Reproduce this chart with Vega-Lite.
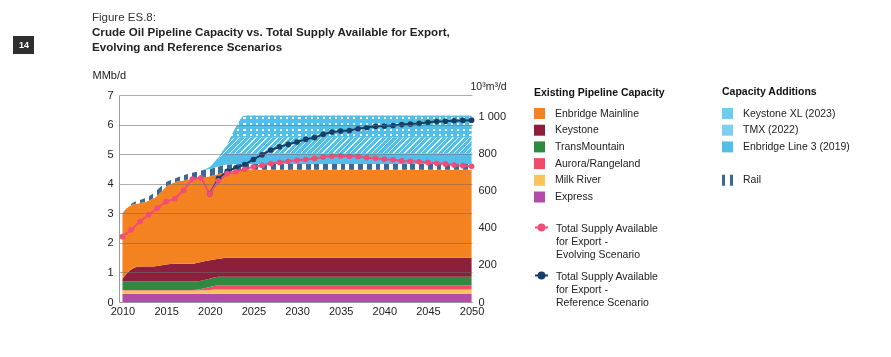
{
  "$schema": "https://vega.github.io/schema/vega-lite/v6.json",
  "width": 353,
  "height": 207,
  "autosize": {"type": "none"},
  "padding": {"left": 119, "top": 95, "right": 419, "bottom": 55},
  "background": "#ffffff",
  "config": {
    "font": "Liberation Sans",
    "view": {"stroke": null},
    "legend": {"labelFontSize": 10.5, "titleFontSize": 10.5, "labelColor": "#222222", "titleColor": "#111111", "labelFont": "Liberation Sans", "titleFont": "Liberation Sans", "padding": 0, "symbolStrokeWidth": 0, "rowPadding": 5.7, "labelOffset": 10, "titlePadding": 10, "labelLimit": 300}
  },
  "title": {
    "text": "Figure ES.8:",
    "subtitle": ["Crude Oil Pipeline Capacity vs. Total Supply Available for Export,", "Evolving and Reference Scenarios"],
    "anchor": "start", "frame": "group", "dx": -27, "offset": -18,
    "font": "Liberation Sans", "fontSize": 11.5, "fontWeight": "normal", "color": "#333333",
    "subtitleFont": "Liberation Sans", "subtitleFontSize": 11.6, "subtitleFontWeight": "bold", "subtitleColor": "#222222", "subtitlePadding": 4, "subtitleLineHeight": 15
  },
  "datasets": {
    "cap": [
      {"year": 2010, "Express": 0.28, "Milk River": 0.11, "Aurora/Rangeland": 0.02, "TransMountain": 0.28, "Keystone": 0.10, "Enbridge Mainline": 2.21, "Rail": 0.00, "Enbridge Line 3 (2019)": 0, "TMX (2022)": 0, "Keystone XL (2023)": 0},
      {"year": 2011, "Express": 0.28, "Milk River": 0.11, "Aurora/Rangeland": 0.02, "TransMountain": 0.28, "Keystone": 0.41, "Enbridge Mainline": 2.18, "Rail": 0.04, "Enbridge Line 3 (2019)": 0, "TMX (2022)": 0, "Keystone XL (2023)": 0},
      {"year": 2012, "Express": 0.28, "Milk River": 0.11, "Aurora/Rangeland": 0.02, "TransMountain": 0.28, "Keystone": 0.51, "Enbridge Mainline": 2.15, "Rail": 0.10, "Enbridge Line 3 (2019)": 0, "TMX (2022)": 0, "Keystone XL (2023)": 0},
      {"year": 2013, "Express": 0.28, "Milk River": 0.11, "Aurora/Rangeland": 0.02, "TransMountain": 0.28, "Keystone": 0.51, "Enbridge Mainline": 2.22, "Rail": 0.15, "Enbridge Line 3 (2019)": 0, "TMX (2022)": 0, "Keystone XL (2023)": 0},
      {"year": 2014, "Express": 0.28, "Milk River": 0.11, "Aurora/Rangeland": 0.02, "TransMountain": 0.28, "Keystone": 0.53, "Enbridge Mainline": 2.38, "Rail": 0.20, "Enbridge Line 3 (2019)": 0, "TMX (2022)": 0, "Keystone XL (2023)": 0},
      {"year": 2015, "Express": 0.28, "Milk River": 0.11, "Aurora/Rangeland": 0.02, "TransMountain": 0.28, "Keystone": 0.58, "Enbridge Mainline": 2.63, "Rail": 0.15, "Enbridge Line 3 (2019)": 0, "TMX (2022)": 0, "Keystone XL (2023)": 0},
      {"year": 2016, "Express": 0.28, "Milk River": 0.11, "Aurora/Rangeland": 0.02, "TransMountain": 0.28, "Keystone": 0.60, "Enbridge Mainline": 2.76, "Rail": 0.13, "Enbridge Line 3 (2019)": 0, "TMX (2022)": 0, "Keystone XL (2023)": 0},
      {"year": 2017, "Express": 0.28, "Milk River": 0.11, "Aurora/Rangeland": 0.02, "TransMountain": 0.28, "Keystone": 0.60, "Enbridge Mainline": 2.83, "Rail": 0.17, "Enbridge Line 3 (2019)": 0, "TMX (2022)": 0, "Keystone XL (2023)": 0},
      {"year": 2018, "Express": 0.28, "Milk River": 0.11, "Aurora/Rangeland": 0.02, "TransMountain": 0.28, "Keystone": 0.60, "Enbridge Mainline": 2.87, "Rail": 0.21, "Enbridge Line 3 (2019)": 0, "TMX (2022)": 0, "Keystone XL (2023)": 0},
      {"year": 2019, "Express": 0.28, "Milk River": 0.12, "Aurora/Rangeland": 0.04, "TransMountain": 0.28, "Keystone": 0.63, "Enbridge Mainline": 2.85, "Rail": 0.25, "Enbridge Line 3 (2019)": 0, "TMX (2022)": 0, "Keystone XL (2023)": 0},
      {"year": 2020, "Express": 0.28, "Milk River": 0.13, "Aurora/Rangeland": 0.10, "TransMountain": 0.28, "Keystone": 0.62, "Enbridge Mainline": 2.84, "Rail": 0.25, "Enbridge Line 3 (2019)": 0.07, "TMX (2022)": 0, "Keystone XL (2023)": 0},
      {"year": 2021, "Express": 0.28, "Milk River": 0.14, "Aurora/Rangeland": 0.15, "TransMountain": 0.28, "Keystone": 0.61, "Enbridge Mainline": 2.87, "Rail": 0.25, "Enbridge Line 3 (2019)": 0.30, "TMX (2022)": 0, "Keystone XL (2023)": 0},
      {"year": 2022, "Express": 0.28, "Milk River": 0.14, "Aurora/Rangeland": 0.15, "TransMountain": 0.28, "Keystone": 0.65, "Enbridge Mainline": 2.90, "Rail": 0.25, "Enbridge Line 3 (2019)": 0.36, "TMX (2022)": 0.30, "Keystone XL (2023)": 0},
      {"year": 2023, "Express": 0.28, "Milk River": 0.14, "Aurora/Rangeland": 0.15, "TransMountain": 0.28, "Keystone": 0.65, "Enbridge Mainline": 2.94, "Rail": 0.22, "Enbridge Line 3 (2019)": 0.36, "TMX (2022)": 0.54, "Keystone XL (2023)": 0.35},
      {"year": 2024, "Express": 0.28, "Milk River": 0.14, "Aurora/Rangeland": 0.15, "TransMountain": 0.28, "Keystone": 0.65, "Enbridge Mainline": 2.97, "Rail": 0.20, "Enbridge Line 3 (2019)": 0.36, "TMX (2022)": 0.53, "Keystone XL (2023)": 0.74},
      {"year": 2050, "Express": 0.28, "Milk River": 0.14, "Aurora/Rangeland": 0.15, "TransMountain": 0.28, "Keystone": 0.65, "Enbridge Mainline": 2.97, "Rail": 0.20, "Enbridge Line 3 (2019)": 0.36, "TMX (2022)": 0.53, "Keystone XL (2023)": 0.74}
    ],
    "sup": [
      {"year": 2010, "Evolving": 2.21}, {"year": 2011, "Evolving": 2.44}, {"year": 2012, "Evolving": 2.72}, {"year": 2013, "Evolving": 2.95},
      {"year": 2014, "Evolving": 3.18}, {"year": 2015, "Evolving": 3.40}, {"year": 2016, "Evolving": 3.49}, {"year": 2017, "Evolving": 3.78},
      {"year": 2018, "Evolving": 4.16}, {"year": 2019, "Evolving": 4.20}, {"year": 2020, "Evolving": 3.66, "Reference": 3.66},
      {"year": 2021, "Evolving": 4.10, "Reference": 4.18}, {"year": 2022, "Evolving": 4.34, "Reference": 4.42}, {"year": 2023, "Evolving": 4.41, "Reference": 4.54},
      {"year": 2024, "Evolving": 4.49, "Reference": 4.65}, {"year": 2025, "Evolving": 4.57, "Reference": 4.82}, {"year": 2026, "Evolving": 4.62, "Reference": 4.98},
      {"year": 2027, "Evolving": 4.68, "Reference": 5.14}, {"year": 2028, "Evolving": 4.72, "Reference": 5.25}, {"year": 2029, "Evolving": 4.76, "Reference": 5.33},
      {"year": 2030, "Evolving": 4.79, "Reference": 5.41}, {"year": 2031, "Evolving": 4.82, "Reference": 5.50}, {"year": 2032, "Evolving": 4.85, "Reference": 5.56},
      {"year": 2033, "Evolving": 4.90, "Reference": 5.67}, {"year": 2034, "Evolving": 4.93, "Reference": 5.75}, {"year": 2035, "Evolving": 4.94, "Reference": 5.78},
      {"year": 2036, "Evolving": 4.93, "Reference": 5.80}, {"year": 2037, "Evolving": 4.92, "Reference": 5.86}, {"year": 2038, "Evolving": 4.88, "Reference": 5.90},
      {"year": 2039, "Evolving": 4.86, "Reference": 5.94}, {"year": 2040, "Evolving": 4.83, "Reference": 5.95}, {"year": 2041, "Evolving": 4.81, "Reference": 5.97},
      {"year": 2042, "Evolving": 4.77, "Reference": 6.00}, {"year": 2043, "Evolving": 4.76, "Reference": 6.02}, {"year": 2044, "Evolving": 4.74, "Reference": 6.04},
      {"year": 2045, "Evolving": 4.72, "Reference": 6.08}, {"year": 2046, "Evolving": 4.69, "Reference": 6.10}, {"year": 2047, "Evolving": 4.67, "Reference": 6.11},
      {"year": 2048, "Evolving": 4.63, "Reference": 6.13}, {"year": 2049, "Evolving": 4.61, "Reference": 6.14}, {"year": 2050, "Evolving": 4.59, "Reference": 6.15}
    ]
  },
  "layer": [
    {
      "data": {"name": "cap"},
      "transform": [
        {"fold": ["Express", "Milk River", "Aurora/Rangeland", "TransMountain", "Keystone", "Enbridge Mainline", "Rail", "Enbridge Line 3 (2019)", "TMX (2022)", "Keystone XL (2023)"], "as": ["series", "value"]},
        {"stack": "value", "groupby": ["year"], "as": ["y0", "y1"]},
        {"filter": {"field": "series", "oneOf": ["Enbridge Mainline", "Keystone", "TransMountain", "Aurora/Rangeland", "Milk River", "Express"]}}
      ],
      "mark": {"type": "area", "interpolate": "monotone"},
      "encoding": {
        "x": {"field": "year", "type": "quantitative", "scale": {"domain": [2009.6, 2050.05], "nice": false, "zero": false},
          "axis": {"values": [2010, 2015, 2020, 2025, 2030, 2035, 2040, 2045, 2050], "format": "d", "title": null, "grid": false, "ticks": false, "domainColor": "#9a9a9a", "labelPadding": 3, "labelFontSize": 11, "labelColor": "#222222", "labelFlush": false, "zindex": 1}},
        "y": {"field": "y1", "type": "quantitative", "scale": {"domain": [0, 7], "nice": false, "zero": true},
          "axis": {"orient": "left", "values": [0, 1, 2, 3, 4, 5, 6, 7], "title": "MMb/d", "titleAngle": 0, "titleAlign": "left", "titleBaseline": "middle", "titleX": -27, "titleY": -20, "titleFontWeight": "normal", "titleFontSize": 11, "titleColor": "#222222", "grid": true, "gridColor": "#6e6e6e", "gridOpacity": 0.55, "gridWidth": 1, "domainColor": "#9a9a9a", "ticks": false, "labelPadding": 6, "labelFontSize": 11, "labelColor": "#222222", "zindex": 1}},
        "y2": {"field": "y0"},
        "color": {"field": "series", "type": "nominal",
          "scale": {"domain": ["Enbridge Mainline", "Keystone", "TransMountain", "Aurora/Rangeland", "Milk River", "Express"], "range": ["#f58220", "#8c1f3c", "#2f8a3f", "#f04c6a", "#fcc25c", "#b44ba6"]},
          "legend": {"title": "Existing Pipeline Capacity", "orient": "none", "legendX": 415, "legendY": -7.5, "symbolType": "square", "symbolSize": 121, "titleFontWeight": "bold"}}
      }
    },
    {
      "data": {"name": "cap"},
      "transform": [
        {"fold": ["Express", "Milk River", "Aurora/Rangeland", "TransMountain", "Keystone", "Enbridge Mainline", "Rail", "Enbridge Line 3 (2019)", "TMX (2022)", "Keystone XL (2023)"], "as": ["series", "value"]},
        {"stack": "value", "groupby": ["year"], "as": ["y0", "y1"]},
        {"filter": {"field": "series", "equal": "Rail"}}
      ],
      "mark": {"type": "area", "interpolate": "monotone", "fill": {"gradient": "linear", "x1": 0, "y1": 0, "x2": 1, "y2": 0, "stops": [
        {"offset":0,"color":"#3b6894"},{"offset":0.01375,"color":"#3b6894"},{"offset":0.01375,"color":"#fff"},{"offset":0.025,"color":"#fff"},
        {"offset":0.025,"color":"#3b6894"},{"offset":0.03875,"color":"#3b6894"},{"offset":0.03875,"color":"#fff"},{"offset":0.05,"color":"#fff"},
        {"offset":0.05,"color":"#3b6894"},{"offset":0.06375,"color":"#3b6894"},{"offset":0.06375,"color":"#fff"},{"offset":0.075,"color":"#fff"},
        {"offset":0.075,"color":"#3b6894"},{"offset":0.08875,"color":"#3b6894"},{"offset":0.08875,"color":"#fff"},{"offset":0.1,"color":"#fff"},
        {"offset":0.1,"color":"#3b6894"},{"offset":0.11375,"color":"#3b6894"},{"offset":0.11375,"color":"#fff"},{"offset":0.125,"color":"#fff"},
        {"offset":0.125,"color":"#3b6894"},{"offset":0.13875,"color":"#3b6894"},{"offset":0.13875,"color":"#fff"},{"offset":0.15,"color":"#fff"},
        {"offset":0.15,"color":"#3b6894"},{"offset":0.16375,"color":"#3b6894"},{"offset":0.16375,"color":"#fff"},{"offset":0.175,"color":"#fff"},
        {"offset":0.175,"color":"#3b6894"},{"offset":0.18875,"color":"#3b6894"},{"offset":0.18875,"color":"#fff"},{"offset":0.2,"color":"#fff"},
        {"offset":0.2,"color":"#3b6894"},{"offset":0.21375,"color":"#3b6894"},{"offset":0.21375,"color":"#fff"},{"offset":0.225,"color":"#fff"},
        {"offset":0.225,"color":"#3b6894"},{"offset":0.23875,"color":"#3b6894"},{"offset":0.23875,"color":"#fff"},{"offset":0.25,"color":"#fff"},
        {"offset":0.25,"color":"#3b6894"},{"offset":0.26375,"color":"#3b6894"},{"offset":0.26375,"color":"#fff"},{"offset":0.275,"color":"#fff"},
        {"offset":0.275,"color":"#3b6894"},{"offset":0.28875,"color":"#3b6894"},{"offset":0.28875,"color":"#fff"},{"offset":0.3,"color":"#fff"},
        {"offset":0.3,"color":"#3b6894"},{"offset":0.31375,"color":"#3b6894"},{"offset":0.31375,"color":"#fff"},{"offset":0.325,"color":"#fff"},
        {"offset":0.325,"color":"#3b6894"},{"offset":0.33875,"color":"#3b6894"},{"offset":0.33875,"color":"#fff"},{"offset":0.35,"color":"#fff"},
        {"offset":0.35,"color":"#3b6894"},{"offset":0.36375,"color":"#3b6894"},{"offset":0.36375,"color":"#fff"},{"offset":0.375,"color":"#fff"},
        {"offset":0.375,"color":"#3b6894"},{"offset":0.38875,"color":"#3b6894"},{"offset":0.38875,"color":"#fff"},{"offset":0.4,"color":"#fff"},
        {"offset":0.4,"color":"#3b6894"},{"offset":0.41375,"color":"#3b6894"},{"offset":0.41375,"color":"#fff"},{"offset":0.425,"color":"#fff"},
        {"offset":0.425,"color":"#3b6894"},{"offset":0.43875,"color":"#3b6894"},{"offset":0.43875,"color":"#fff"},{"offset":0.45,"color":"#fff"},
        {"offset":0.45,"color":"#3b6894"},{"offset":0.46375,"color":"#3b6894"},{"offset":0.46375,"color":"#fff"},{"offset":0.475,"color":"#fff"},
        {"offset":0.475,"color":"#3b6894"},{"offset":0.48875,"color":"#3b6894"},{"offset":0.48875,"color":"#fff"},{"offset":0.5,"color":"#fff"},
        {"offset":0.5,"color":"#3b6894"},{"offset":0.51375,"color":"#3b6894"},{"offset":0.51375,"color":"#fff"},{"offset":0.525,"color":"#fff"},
        {"offset":0.525,"color":"#3b6894"},{"offset":0.53875,"color":"#3b6894"},{"offset":0.53875,"color":"#fff"},{"offset":0.55,"color":"#fff"},
        {"offset":0.55,"color":"#3b6894"},{"offset":0.56375,"color":"#3b6894"},{"offset":0.56375,"color":"#fff"},{"offset":0.575,"color":"#fff"},
        {"offset":0.575,"color":"#3b6894"},{"offset":0.58875,"color":"#3b6894"},{"offset":0.58875,"color":"#fff"},{"offset":0.6,"color":"#fff"},
        {"offset":0.6,"color":"#3b6894"},{"offset":0.61375,"color":"#3b6894"},{"offset":0.61375,"color":"#fff"},{"offset":0.625,"color":"#fff"},
        {"offset":0.625,"color":"#3b6894"},{"offset":0.63875,"color":"#3b6894"},{"offset":0.63875,"color":"#fff"},{"offset":0.65,"color":"#fff"},
        {"offset":0.65,"color":"#3b6894"},{"offset":0.66375,"color":"#3b6894"},{"offset":0.66375,"color":"#fff"},{"offset":0.675,"color":"#fff"},
        {"offset":0.675,"color":"#3b6894"},{"offset":0.68875,"color":"#3b6894"},{"offset":0.68875,"color":"#fff"},{"offset":0.7,"color":"#fff"},
        {"offset":0.7,"color":"#3b6894"},{"offset":0.71375,"color":"#3b6894"},{"offset":0.71375,"color":"#fff"},{"offset":0.725,"color":"#fff"},
        {"offset":0.725,"color":"#3b6894"},{"offset":0.73875,"color":"#3b6894"},{"offset":0.73875,"color":"#fff"},{"offset":0.75,"color":"#fff"},
        {"offset":0.75,"color":"#3b6894"},{"offset":0.76375,"color":"#3b6894"},{"offset":0.76375,"color":"#fff"},{"offset":0.775,"color":"#fff"},
        {"offset":0.775,"color":"#3b6894"},{"offset":0.78875,"color":"#3b6894"},{"offset":0.78875,"color":"#fff"},{"offset":0.8,"color":"#fff"},
        {"offset":0.8,"color":"#3b6894"},{"offset":0.81375,"color":"#3b6894"},{"offset":0.81375,"color":"#fff"},{"offset":0.825,"color":"#fff"},
        {"offset":0.825,"color":"#3b6894"},{"offset":0.83875,"color":"#3b6894"},{"offset":0.83875,"color":"#fff"},{"offset":0.85,"color":"#fff"},
        {"offset":0.85,"color":"#3b6894"},{"offset":0.86375,"color":"#3b6894"},{"offset":0.86375,"color":"#fff"},{"offset":0.875,"color":"#fff"},
        {"offset":0.875,"color":"#3b6894"},{"offset":0.88875,"color":"#3b6894"},{"offset":0.88875,"color":"#fff"},{"offset":0.9,"color":"#fff"},
        {"offset":0.9,"color":"#3b6894"},{"offset":0.91375,"color":"#3b6894"},{"offset":0.91375,"color":"#fff"},{"offset":0.925,"color":"#fff"},
        {"offset":0.925,"color":"#3b6894"},{"offset":0.93875,"color":"#3b6894"},{"offset":0.93875,"color":"#fff"},{"offset":0.95,"color":"#fff"},
        {"offset":0.95,"color":"#3b6894"},{"offset":0.96375,"color":"#3b6894"},{"offset":0.96375,"color":"#fff"},{"offset":0.975,"color":"#fff"},
        {"offset":0.975,"color":"#3b6894"},{"offset":0.98875,"color":"#3b6894"},{"offset":0.98875,"color":"#fff"},{"offset":1,"color":"#fff"}
      ]}},
      "encoding": {
        "x": {"field": "year", "type": "quantitative"},
        "y": {"field": "y1", "type": "quantitative", "axis": null},
        "y2": {"field": "y0"},
        "opacity": {"datum": "14", "type": "ordinal", "scale": {"range": [1]},
          "legend": {"title": null, "orient": "none", "legendX": -106, "legendY": -59, "fillColor": "#2e2e2e", "padding": 4, "symbolSize": 0, "symbolOpacity": 0, "labelOffset": -7, "labelColor": "#ffffff", "labelFontSize": 9, "labelFontWeight": "bold", "symbolType": "square"}}
      }
    },
    {
      "data": {"name": "cap"},
      "transform": [
        {"fold": ["Express", "Milk River", "Aurora/Rangeland", "TransMountain", "Keystone", "Enbridge Mainline", "Rail", "Enbridge Line 3 (2019)", "TMX (2022)", "Keystone XL (2023)"], "as": ["series", "value"]},
        {"stack": "value", "groupby": ["year"], "as": ["y0", "y1"]},
        {"filter": {"field": "series", "oneOf": ["Enbridge Line 3 (2019)", "Keystone XL (2023)"]}}
      ],
      "mark": {"type": "area", "interpolate": "monotone"},
      "encoding": {
        "x": {"field": "year", "type": "quantitative"},
        "y": {"field": "y1", "type": "quantitative", "axis": null},
        "y2": {"field": "y0"},
        "color": {"field": "series", "type": "nominal",
          "scale": {"domain": ["Keystone XL (2023)", "TMX (2022)", "Enbridge Line 3 (2019)", " ", "Rail"], "range": ["#6ecaee", "#7dcfef", "#52bfe9", "#ffffff", "#3b6894"]},
          "legend": {"title": "Capacity Additions", "orient": "none", "legendX": 603, "legendY": -8.5, "symbolType": "square", "symbolSize": 121, "titleFontWeight": "bold", "titlePadding": 11,
            "encode": {"symbols": {"update": {
              "shape": [
                {"test": "datum.value === 'Rail'", "value": "M-1,-1H-0.45V1H-1ZM0.45,-1H1V1H0.45Z"},
                {"value": "square"}
              ],
              "opacity": {"value": 1}
            }}}}}
      }
    },
    {
      "data": {"name": "cap"},
      "transform": [
        {"fold": ["Express", "Milk River", "Aurora/Rangeland", "TransMountain", "Keystone", "Enbridge Mainline", "Rail", "Enbridge Line 3 (2019)", "TMX (2022)", "Keystone XL (2023)"], "as": ["series", "value"]},
        {"stack": "value", "groupby": ["year"], "as": ["y0", "y1"]},
        {"filter": "datum.series === 'Keystone XL (2023)' && datum.year >= 2022"}
      ],
      "mark": {"type": "area", "interpolate": "monotone", "fill": {"gradient": "linear", "x1": 0, "y1": 0, "x2": 1, "y2": 0, "stops": [
        {"offset":0,"color":"#52bfe9"},{"offset":0.0165,"color":"#52bfe9"},{"offset":0.0165,"color":"#fff"},{"offset":0.025,"color":"#fff"},
        {"offset":0.025,"color":"#52bfe9"},{"offset":0.0415,"color":"#52bfe9"},{"offset":0.0415,"color":"#fff"},{"offset":0.05,"color":"#fff"},
        {"offset":0.05,"color":"#52bfe9"},{"offset":0.0665,"color":"#52bfe9"},{"offset":0.0665,"color":"#fff"},{"offset":0.075,"color":"#fff"},
        {"offset":0.075,"color":"#52bfe9"},{"offset":0.0915,"color":"#52bfe9"},{"offset":0.0915,"color":"#fff"},{"offset":0.1,"color":"#fff"},
        {"offset":0.1,"color":"#52bfe9"},{"offset":0.1165,"color":"#52bfe9"},{"offset":0.1165,"color":"#fff"},{"offset":0.125,"color":"#fff"},
        {"offset":0.125,"color":"#52bfe9"},{"offset":0.1415,"color":"#52bfe9"},{"offset":0.1415,"color":"#fff"},{"offset":0.15,"color":"#fff"},
        {"offset":0.15,"color":"#52bfe9"},{"offset":0.1665,"color":"#52bfe9"},{"offset":0.1665,"color":"#fff"},{"offset":0.175,"color":"#fff"},
        {"offset":0.175,"color":"#52bfe9"},{"offset":0.1915,"color":"#52bfe9"},{"offset":0.1915,"color":"#fff"},{"offset":0.2,"color":"#fff"},
        {"offset":0.2,"color":"#52bfe9"},{"offset":0.2165,"color":"#52bfe9"},{"offset":0.2165,"color":"#fff"},{"offset":0.225,"color":"#fff"},
        {"offset":0.225,"color":"#52bfe9"},{"offset":0.2415,"color":"#52bfe9"},{"offset":0.2415,"color":"#fff"},{"offset":0.25,"color":"#fff"},
        {"offset":0.25,"color":"#52bfe9"},{"offset":0.2665,"color":"#52bfe9"},{"offset":0.2665,"color":"#fff"},{"offset":0.275,"color":"#fff"},
        {"offset":0.275,"color":"#52bfe9"},{"offset":0.2915,"color":"#52bfe9"},{"offset":0.2915,"color":"#fff"},{"offset":0.3,"color":"#fff"},
        {"offset":0.3,"color":"#52bfe9"},{"offset":0.3165,"color":"#52bfe9"},{"offset":0.3165,"color":"#fff"},{"offset":0.325,"color":"#fff"},
        {"offset":0.325,"color":"#52bfe9"},{"offset":0.3415,"color":"#52bfe9"},{"offset":0.3415,"color":"#fff"},{"offset":0.35,"color":"#fff"},
        {"offset":0.35,"color":"#52bfe9"},{"offset":0.3665,"color":"#52bfe9"},{"offset":0.3665,"color":"#fff"},{"offset":0.375,"color":"#fff"},
        {"offset":0.375,"color":"#52bfe9"},{"offset":0.3915,"color":"#52bfe9"},{"offset":0.3915,"color":"#fff"},{"offset":0.4,"color":"#fff"},
        {"offset":0.4,"color":"#52bfe9"},{"offset":0.4165,"color":"#52bfe9"},{"offset":0.4165,"color":"#fff"},{"offset":0.425,"color":"#fff"},
        {"offset":0.425,"color":"#52bfe9"},{"offset":0.4415,"color":"#52bfe9"},{"offset":0.4415,"color":"#fff"},{"offset":0.45,"color":"#fff"},
        {"offset":0.45,"color":"#52bfe9"},{"offset":0.4665,"color":"#52bfe9"},{"offset":0.4665,"color":"#fff"},{"offset":0.475,"color":"#fff"},
        {"offset":0.475,"color":"#52bfe9"},{"offset":0.4915,"color":"#52bfe9"},{"offset":0.4915,"color":"#fff"},{"offset":0.5,"color":"#fff"},
        {"offset":0.5,"color":"#52bfe9"},{"offset":0.5165,"color":"#52bfe9"},{"offset":0.5165,"color":"#fff"},{"offset":0.525,"color":"#fff"},
        {"offset":0.525,"color":"#52bfe9"},{"offset":0.5415,"color":"#52bfe9"},{"offset":0.5415,"color":"#fff"},{"offset":0.55,"color":"#fff"},
        {"offset":0.55,"color":"#52bfe9"},{"offset":0.5665,"color":"#52bfe9"},{"offset":0.5665,"color":"#fff"},{"offset":0.575,"color":"#fff"},
        {"offset":0.575,"color":"#52bfe9"},{"offset":0.5915,"color":"#52bfe9"},{"offset":0.5915,"color":"#fff"},{"offset":0.6,"color":"#fff"},
        {"offset":0.6,"color":"#52bfe9"},{"offset":0.6165,"color":"#52bfe9"},{"offset":0.6165,"color":"#fff"},{"offset":0.625,"color":"#fff"},
        {"offset":0.625,"color":"#52bfe9"},{"offset":0.6415,"color":"#52bfe9"},{"offset":0.6415,"color":"#fff"},{"offset":0.65,"color":"#fff"},
        {"offset":0.65,"color":"#52bfe9"},{"offset":0.6665,"color":"#52bfe9"},{"offset":0.6665,"color":"#fff"},{"offset":0.675,"color":"#fff"},
        {"offset":0.675,"color":"#52bfe9"},{"offset":0.6915,"color":"#52bfe9"},{"offset":0.6915,"color":"#fff"},{"offset":0.7,"color":"#fff"},
        {"offset":0.7,"color":"#52bfe9"},{"offset":0.7165,"color":"#52bfe9"},{"offset":0.7165,"color":"#fff"},{"offset":0.725,"color":"#fff"},
        {"offset":0.725,"color":"#52bfe9"},{"offset":0.7415,"color":"#52bfe9"},{"offset":0.7415,"color":"#fff"},{"offset":0.75,"color":"#fff"},
        {"offset":0.75,"color":"#52bfe9"},{"offset":0.7665,"color":"#52bfe9"},{"offset":0.7665,"color":"#fff"},{"offset":0.775,"color":"#fff"},
        {"offset":0.775,"color":"#52bfe9"},{"offset":0.7915,"color":"#52bfe9"},{"offset":0.7915,"color":"#fff"},{"offset":0.8,"color":"#fff"},
        {"offset":0.8,"color":"#52bfe9"},{"offset":0.8165,"color":"#52bfe9"},{"offset":0.8165,"color":"#fff"},{"offset":0.825,"color":"#fff"},
        {"offset":0.825,"color":"#52bfe9"},{"offset":0.8415,"color":"#52bfe9"},{"offset":0.8415,"color":"#fff"},{"offset":0.85,"color":"#fff"},
        {"offset":0.85,"color":"#52bfe9"},{"offset":0.8665,"color":"#52bfe9"},{"offset":0.8665,"color":"#fff"},{"offset":0.875,"color":"#fff"},
        {"offset":0.875,"color":"#52bfe9"},{"offset":0.8915,"color":"#52bfe9"},{"offset":0.8915,"color":"#fff"},{"offset":0.9,"color":"#fff"},
        {"offset":0.9,"color":"#52bfe9"},{"offset":0.9165,"color":"#52bfe9"},{"offset":0.9165,"color":"#fff"},{"offset":0.925,"color":"#fff"},
        {"offset":0.925,"color":"#52bfe9"},{"offset":0.9415,"color":"#52bfe9"},{"offset":0.9415,"color":"#fff"},{"offset":0.95,"color":"#fff"},
        {"offset":0.95,"color":"#52bfe9"},{"offset":0.9665,"color":"#52bfe9"},{"offset":0.9665,"color":"#fff"},{"offset":0.975,"color":"#fff"},
        {"offset":0.975,"color":"#52bfe9"},{"offset":0.9915,"color":"#52bfe9"},{"offset":0.9915,"color":"#fff"},{"offset":1,"color":"#fff"}
      ]}},
      "encoding": {
        "x": {"field": "year", "type": "quantitative"},
        "y": {"field": "y1", "type": "quantitative", "axis": null},
        "y2": {"field": "y0"}
      }
    },
    {
      "data": {"name": "cap"},
      "transform": [
        {"fold": ["Express", "Milk River", "Aurora/Rangeland", "TransMountain", "Keystone", "Enbridge Mainline", "Rail", "Enbridge Line 3 (2019)", "TMX (2022)", "Keystone XL (2023)"], "as": ["series", "value"]},
        {"stack": "value", "groupby": ["year"], "as": ["y0", "y1"]},
        {"filter": "datum.series === 'Keystone XL (2023)' && datum.year >= 2022"}
      ],
      "mark": {"type": "area", "interpolate": "monotone", "blend": "darken", "fill": {"gradient": "linear", "x1": 0, "y1": 0, "x2": 0, "y2": 1, "stops": [
        {"offset":0,"color":"#52bfe9"},{"offset":0.04,"color":"#52bfe9"},{"offset":0.04,"color":"#fff"},{"offset":0.11,"color":"#fff"},
        {"offset":0.11,"color":"#52bfe9"},{"offset":0.24,"color":"#52bfe9"},{"offset":0.24,"color":"#fff"},{"offset":0.31,"color":"#fff"},
        {"offset":0.31,"color":"#52bfe9"},{"offset":0.44,"color":"#52bfe9"},{"offset":0.44,"color":"#fff"},{"offset":0.51,"color":"#fff"},
        {"offset":0.51,"color":"#52bfe9"},{"offset":0.64,"color":"#52bfe9"},{"offset":0.64,"color":"#fff"},{"offset":0.71,"color":"#fff"},
        {"offset":0.71,"color":"#52bfe9"},{"offset":1,"color":"#52bfe9"}
      ]}},
      "encoding": {
        "x": {"field": "year", "type": "quantitative"},
        "y": {"field": "y1", "type": "quantitative", "axis": null},
        "y2": {"field": "y0"}
      }
    },
    {
      "data": {"name": "cap"},
      "transform": [
        {"fold": ["Express", "Milk River", "Aurora/Rangeland", "TransMountain", "Keystone", "Enbridge Mainline", "Rail", "Enbridge Line 3 (2019)", "TMX (2022)", "Keystone XL (2023)"], "as": ["series", "value"]},
        {"stack": "value", "groupby": ["year"], "as": ["y0", "y1"]},
        {"filter": "datum.series === 'TMX (2022)' && datum.year >= 2021"}
      ],
      "mark": {"type": "area", "interpolate": "monotone", "fill": {"gradient": "linear", "x1": 0, "y1": 0, "x2": 1.073, "y2": 0.0853, "stops": [
        {"offset":0,"color":"#52bfe9"},{"offset":0.015,"color":"#52bfe9"},{"offset":0.015,"color":"#e6f6fd"},{"offset":0.02,"color":"#e6f6fd"},
        {"offset":0.02,"color":"#52bfe9"},{"offset":0.035,"color":"#52bfe9"},{"offset":0.035,"color":"#e6f6fd"},{"offset":0.04,"color":"#e6f6fd"},
        {"offset":0.04,"color":"#52bfe9"},{"offset":0.055,"color":"#52bfe9"},{"offset":0.055,"color":"#e6f6fd"},{"offset":0.06,"color":"#e6f6fd"},
        {"offset":0.06,"color":"#52bfe9"},{"offset":0.075,"color":"#52bfe9"},{"offset":0.075,"color":"#e6f6fd"},{"offset":0.08,"color":"#e6f6fd"},
        {"offset":0.08,"color":"#52bfe9"},{"offset":0.095,"color":"#52bfe9"},{"offset":0.095,"color":"#e6f6fd"},{"offset":0.1,"color":"#e6f6fd"},
        {"offset":0.1,"color":"#52bfe9"},{"offset":0.115,"color":"#52bfe9"},{"offset":0.115,"color":"#e6f6fd"},{"offset":0.12,"color":"#e6f6fd"},
        {"offset":0.12,"color":"#52bfe9"},{"offset":0.135,"color":"#52bfe9"},{"offset":0.135,"color":"#e6f6fd"},{"offset":0.14,"color":"#e6f6fd"},
        {"offset":0.14,"color":"#52bfe9"},{"offset":0.155,"color":"#52bfe9"},{"offset":0.155,"color":"#e6f6fd"},{"offset":0.16,"color":"#e6f6fd"},
        {"offset":0.16,"color":"#52bfe9"},{"offset":0.175,"color":"#52bfe9"},{"offset":0.175,"color":"#e6f6fd"},{"offset":0.18,"color":"#e6f6fd"},
        {"offset":0.18,"color":"#52bfe9"},{"offset":0.195,"color":"#52bfe9"},{"offset":0.195,"color":"#e6f6fd"},{"offset":0.2,"color":"#e6f6fd"},
        {"offset":0.2,"color":"#52bfe9"},{"offset":0.215,"color":"#52bfe9"},{"offset":0.215,"color":"#e6f6fd"},{"offset":0.22,"color":"#e6f6fd"},
        {"offset":0.22,"color":"#52bfe9"},{"offset":0.235,"color":"#52bfe9"},{"offset":0.235,"color":"#e6f6fd"},{"offset":0.24,"color":"#e6f6fd"},
        {"offset":0.24,"color":"#52bfe9"},{"offset":0.255,"color":"#52bfe9"},{"offset":0.255,"color":"#e6f6fd"},{"offset":0.26,"color":"#e6f6fd"},
        {"offset":0.26,"color":"#52bfe9"},{"offset":0.275,"color":"#52bfe9"},{"offset":0.275,"color":"#e6f6fd"},{"offset":0.28,"color":"#e6f6fd"},
        {"offset":0.28,"color":"#52bfe9"},{"offset":0.295,"color":"#52bfe9"},{"offset":0.295,"color":"#e6f6fd"},{"offset":0.3,"color":"#e6f6fd"},
        {"offset":0.3,"color":"#52bfe9"},{"offset":0.315,"color":"#52bfe9"},{"offset":0.315,"color":"#e6f6fd"},{"offset":0.32,"color":"#e6f6fd"},
        {"offset":0.32,"color":"#52bfe9"},{"offset":0.335,"color":"#52bfe9"},{"offset":0.335,"color":"#e6f6fd"},{"offset":0.34,"color":"#e6f6fd"},
        {"offset":0.34,"color":"#52bfe9"},{"offset":0.355,"color":"#52bfe9"},{"offset":0.355,"color":"#e6f6fd"},{"offset":0.36,"color":"#e6f6fd"},
        {"offset":0.36,"color":"#52bfe9"},{"offset":0.375,"color":"#52bfe9"},{"offset":0.375,"color":"#e6f6fd"},{"offset":0.38,"color":"#e6f6fd"},
        {"offset":0.38,"color":"#52bfe9"},{"offset":0.395,"color":"#52bfe9"},{"offset":0.395,"color":"#e6f6fd"},{"offset":0.4,"color":"#e6f6fd"},
        {"offset":0.4,"color":"#52bfe9"},{"offset":0.415,"color":"#52bfe9"},{"offset":0.415,"color":"#e6f6fd"},{"offset":0.42,"color":"#e6f6fd"},
        {"offset":0.42,"color":"#52bfe9"},{"offset":0.435,"color":"#52bfe9"},{"offset":0.435,"color":"#e6f6fd"},{"offset":0.44,"color":"#e6f6fd"},
        {"offset":0.44,"color":"#52bfe9"},{"offset":0.455,"color":"#52bfe9"},{"offset":0.455,"color":"#e6f6fd"},{"offset":0.46,"color":"#e6f6fd"},
        {"offset":0.46,"color":"#52bfe9"},{"offset":0.475,"color":"#52bfe9"},{"offset":0.475,"color":"#e6f6fd"},{"offset":0.48,"color":"#e6f6fd"},
        {"offset":0.48,"color":"#52bfe9"},{"offset":0.495,"color":"#52bfe9"},{"offset":0.495,"color":"#e6f6fd"},{"offset":0.5,"color":"#e6f6fd"},
        {"offset":0.5,"color":"#52bfe9"},{"offset":0.515,"color":"#52bfe9"},{"offset":0.515,"color":"#e6f6fd"},{"offset":0.52,"color":"#e6f6fd"},
        {"offset":0.52,"color":"#52bfe9"},{"offset":0.535,"color":"#52bfe9"},{"offset":0.535,"color":"#e6f6fd"},{"offset":0.54,"color":"#e6f6fd"},
        {"offset":0.54,"color":"#52bfe9"},{"offset":0.555,"color":"#52bfe9"},{"offset":0.555,"color":"#e6f6fd"},{"offset":0.56,"color":"#e6f6fd"},
        {"offset":0.56,"color":"#52bfe9"},{"offset":0.575,"color":"#52bfe9"},{"offset":0.575,"color":"#e6f6fd"},{"offset":0.58,"color":"#e6f6fd"},
        {"offset":0.58,"color":"#52bfe9"},{"offset":0.595,"color":"#52bfe9"},{"offset":0.595,"color":"#e6f6fd"},{"offset":0.6,"color":"#e6f6fd"},
        {"offset":0.6,"color":"#52bfe9"},{"offset":0.615,"color":"#52bfe9"},{"offset":0.615,"color":"#e6f6fd"},{"offset":0.62,"color":"#e6f6fd"},
        {"offset":0.62,"color":"#52bfe9"},{"offset":0.635,"color":"#52bfe9"},{"offset":0.635,"color":"#e6f6fd"},{"offset":0.64,"color":"#e6f6fd"},
        {"offset":0.64,"color":"#52bfe9"},{"offset":0.655,"color":"#52bfe9"},{"offset":0.655,"color":"#e6f6fd"},{"offset":0.66,"color":"#e6f6fd"},
        {"offset":0.66,"color":"#52bfe9"},{"offset":0.675,"color":"#52bfe9"},{"offset":0.675,"color":"#e6f6fd"},{"offset":0.68,"color":"#e6f6fd"},
        {"offset":0.68,"color":"#52bfe9"},{"offset":0.695,"color":"#52bfe9"},{"offset":0.695,"color":"#e6f6fd"},{"offset":0.7,"color":"#e6f6fd"},
        {"offset":0.7,"color":"#52bfe9"},{"offset":0.715,"color":"#52bfe9"},{"offset":0.715,"color":"#e6f6fd"},{"offset":0.72,"color":"#e6f6fd"},
        {"offset":0.72,"color":"#52bfe9"},{"offset":0.735,"color":"#52bfe9"},{"offset":0.735,"color":"#e6f6fd"},{"offset":0.74,"color":"#e6f6fd"},
        {"offset":0.74,"color":"#52bfe9"},{"offset":0.755,"color":"#52bfe9"},{"offset":0.755,"color":"#e6f6fd"},{"offset":0.76,"color":"#e6f6fd"},
        {"offset":0.76,"color":"#52bfe9"},{"offset":0.775,"color":"#52bfe9"},{"offset":0.775,"color":"#e6f6fd"},{"offset":0.78,"color":"#e6f6fd"},
        {"offset":0.78,"color":"#52bfe9"},{"offset":0.795,"color":"#52bfe9"},{"offset":0.795,"color":"#e6f6fd"},{"offset":0.8,"color":"#e6f6fd"},
        {"offset":0.8,"color":"#52bfe9"},{"offset":0.815,"color":"#52bfe9"},{"offset":0.815,"color":"#e6f6fd"},{"offset":0.82,"color":"#e6f6fd"},
        {"offset":0.82,"color":"#52bfe9"},{"offset":0.835,"color":"#52bfe9"},{"offset":0.835,"color":"#e6f6fd"},{"offset":0.84,"color":"#e6f6fd"},
        {"offset":0.84,"color":"#52bfe9"},{"offset":0.855,"color":"#52bfe9"},{"offset":0.855,"color":"#e6f6fd"},{"offset":0.86,"color":"#e6f6fd"},
        {"offset":0.86,"color":"#52bfe9"},{"offset":0.875,"color":"#52bfe9"},{"offset":0.875,"color":"#e6f6fd"},{"offset":0.88,"color":"#e6f6fd"},
        {"offset":0.88,"color":"#52bfe9"},{"offset":0.895,"color":"#52bfe9"},{"offset":0.895,"color":"#e6f6fd"},{"offset":0.9,"color":"#e6f6fd"},
        {"offset":0.9,"color":"#52bfe9"},{"offset":0.915,"color":"#52bfe9"},{"offset":0.915,"color":"#e6f6fd"},{"offset":0.92,"color":"#e6f6fd"},
        {"offset":0.92,"color":"#52bfe9"},{"offset":0.935,"color":"#52bfe9"},{"offset":0.935,"color":"#e6f6fd"},{"offset":0.94,"color":"#e6f6fd"},
        {"offset":0.94,"color":"#52bfe9"},{"offset":0.955,"color":"#52bfe9"},{"offset":0.955,"color":"#e6f6fd"},{"offset":0.96,"color":"#e6f6fd"},
        {"offset":0.96,"color":"#52bfe9"},{"offset":0.975,"color":"#52bfe9"},{"offset":0.975,"color":"#e6f6fd"},{"offset":0.98,"color":"#e6f6fd"},
        {"offset":0.98,"color":"#52bfe9"},{"offset":0.995,"color":"#52bfe9"},{"offset":0.995,"color":"#e6f6fd"},{"offset":1,"color":"#e6f6fd"}
      ]}},
      "encoding": {
        "x": {"field": "year", "type": "quantitative"},
        "y": {"field": "y1", "type": "quantitative", "axis": null},
        "y2": {"field": "y0"}
      }
    },
    {
      "data": {"name": "sup"},
      "transform": [
        {"fold": ["Reference", "Evolving"], "as": ["scenario", "value"]}
      ],
      "mark": {"type": "line", "strokeWidth": 2, "point": {"filled": true, "size": 32, "opacity": 1}},
      "encoding": {
        "x": {"field": "year", "type": "quantitative"},
        "y": {"field": "value", "type": "quantitative",
          "axis": {"orient": "right", "values": [0, 1.25796, 2.51593, 3.77389, 5.03186, 6.28982], "labelExpr": "datum.value > 6 ? '1 000' : format(round(datum.value * 158.987), 'd')", "title": "10³m³/d", "titleAngle": 0, "titleAlign": "left", "titleBaseline": "middle", "titleX": -2, "titleY": -9, "titleFontWeight": "normal", "titleFontSize": 10.5, "titleColor": "#222222", "grid": false, "domain": false, "ticks": false, "labelPadding": 6, "labelFontSize": 11, "labelColor": "#222222"}},
        "color": {"field": "scenario", "type": "nominal",
          "scale": {"domain": ["Evolving", "Reference"], "range": ["#f04e78", "#163f66"]},
          "legend": {"title": null, "orient": "none", "legendX": 415, "legendY": 125, "symbolType": "M-1,0H1M0.45,0A0.45,0.45,0,1,1,-0.45,0A0.45,0.45,0,1,1,0.45,0Z", "symbolSize": 169, "symbolStrokeWidth": 2, "labelBaseline": "top", "rowPadding": 8, "labelOffset": 7,
            "labelExpr": "datum.label == 'Evolving' ? ['Total Supply Available', 'for Export -', 'Evolving Scenario'] : ['Total Supply Available', 'for Export -', 'Reference Scenario']",
            "encode": {
              "labels": {"update": {"dy": {"value": -4}, "lineHeight": {"value": 13}}},
              "symbols": {"update": {
                "fill": [{"test": "datum.value === 'Evolving'", "value": "#f04e78"}, {"value": "#163f66"}],
                "stroke": [{"test": "datum.value === 'Evolving'", "value": "#f04e78"}, {"value": "#163f66"}],
                "strokeWidth": {"value": 2}, "opacity": {"value": 1}}}
            }}}
      }
    }
  ],
  "resolve": {"scale": {"color": "independent"}, "axis": {"y": "independent"}}
}
